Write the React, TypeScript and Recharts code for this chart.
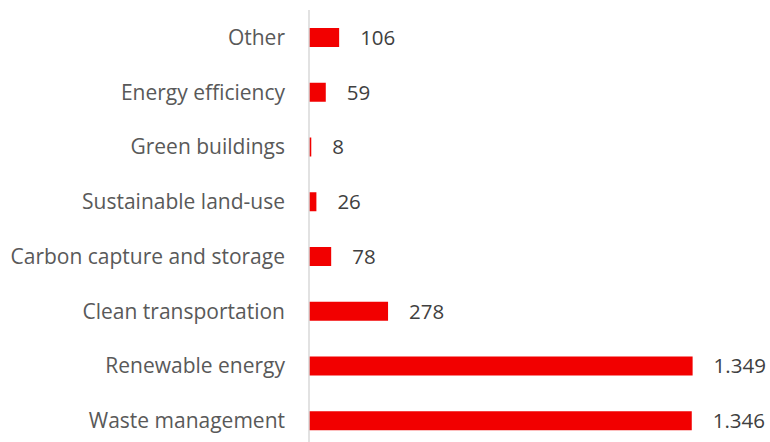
import React from 'react';
import { BarChart, Bar, XAxis, YAxis, LabelList } from 'recharts';

const categories = [
  'Other',
  'Energy efficiency',
  'Green buildings',
  'Sustainable land-use',
  'Carbon capture and storage',
  'Clean transportation',
  'Renewable energy',
  'Waste management',
];
const values = [106, 59, 8, 26, 78, 278, 1349, 1346];

const data = categories.map((c, i) => ({ name: c, value: values[i] }));

const fmt = (v: any) => String(v).replace(/\B(?=(\d{3})+(?!\d))/g, '.');

const FONT = '"Open Sans", sans-serif';

export default function App() {
  return (
    <div style={{ position: 'absolute', left: 0, top: 0, width: 770, height: 442, overflow: 'hidden', background: '#fff' }}>
      <BarChart
        width={770}
        height={460}
        data={data}
        layout="vertical"
        margin={{ top: 10, right: 6, bottom: 12, left: 0 }}
      >
        <XAxis type="number" domain={[0, 1600]} hide />
        <YAxis
          type="category"
          dataKey="name"
          width={309}
          axisLine={{ stroke: '#d9d9d9', strokeWidth: 1.5 }}
          tickLine={false}
          tickSize={0}
          tickMargin={24}
          tick={{ fill: '#595959', fontSize: 21, fontFamily: FONT }}
          interval={0}
        />
        <Bar dataKey="value" fill="#f20000" barSize={19} isAnimationActive={false}>
          <LabelList
            dataKey="value"
            position="right"
            offset={21}
            formatter={fmt}
            style={{ fill: '#404040', fontSize: 20.5, fontFamily: FONT }}
          />
        </Bar>
      </BarChart>
    </div>
  );
}
